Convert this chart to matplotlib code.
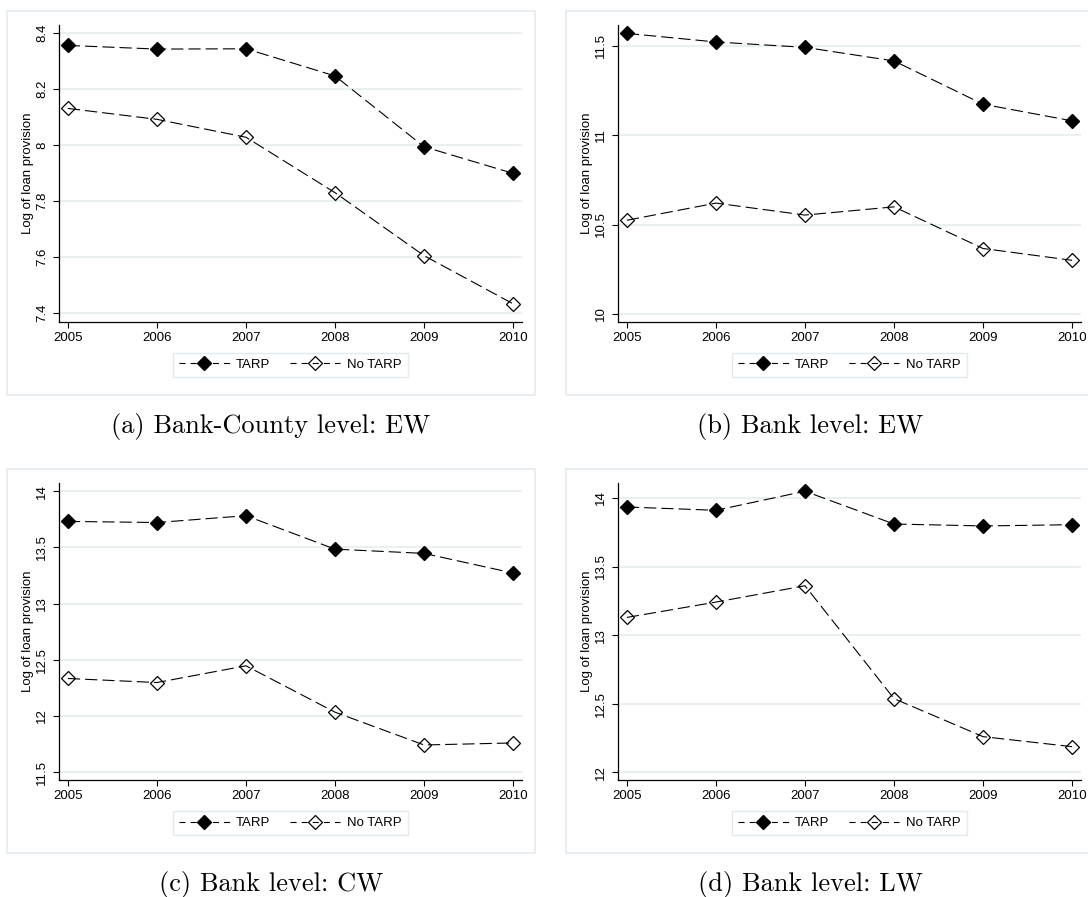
import matplotlib
matplotlib.use("Agg")
import matplotlib.pyplot as plt
from matplotlib.patches import Rectangle

# Data
years = [2005, 2006, 2007, 2008, 2009, 2010]

tarp_a = [8.356, 8.343, 8.344, 8.247, 7.994, 7.899]
notarp_a = [8.131, 8.092, 8.028, 7.830, 7.605, 7.433]

tarp_b = [11.569, 11.521, 11.491, 11.415, 11.173, 11.080]
notarp_b = [10.524, 10.620, 10.553, 10.599, 10.366, 10.300]

tarp_c = [13.732, 13.722, 13.783, 13.485, 13.447, 13.272]
notarp_c = [12.333, 12.297, 12.446, 12.033, 11.741, 11.759]

tarp_d = [13.934, 13.910, 14.049, 13.810, 13.796, 13.805]
notarp_d = [13.129, 13.241, 13.360, 12.537, 12.260, 12.187]

yticks_a = [7.4, 7.6, 7.8, 8.0, 8.2, 8.4]
ylabels_a = ["7.4", "7.6", "7.8", "8", "8.2", "8.4"]
yticks_b = [10, 10.5, 11, 11.5]
ylabels_b = ["10", "10.5", "11", "11.5"]
yticks_c = [11.5, 12, 12.5, 13, 13.5, 14]
ylabels_c = ["11.5", "12", "12.5", "13", "13.5", "14"]
yticks_d = [12, 12.5, 13, 13.5, 14]
ylabels_d = ["12", "12.5", "13", "13.5", "14"]

captions = ["(a) Bank-County level: EW", "(b) Bank level: EW",
            "(c) Bank level: CW", "(d) Bank level: LW"]

W, H = 1088, 897
plt.rcParams['font.family'] = ['Liberation Sans', 'DejaVu Sans']
fig = plt.figure(figsize=(W / 100, H / 100), dpi=100)

GRID = '#e8eff1'
FRAME = '#e3eaed'


def px_box(l, r, t, b):
    return [l / W, 1 - b / H, (r - l) / W, (b - t) / H]


panels = [
    (tarp_a, notarp_a, yticks_a, ylabels_a, (7.368, 8.429), 0, 0),
    (tarp_b, notarp_b, yticks_b, ylabels_b, (9.955, 11.616), 559, 0),
    (tarp_c, notarp_c, yticks_c, ylabels_c, (11.429, 14.074), 0, 458),
    (tarp_d, notarp_d, yticks_d, ylabels_d, (11.944, 14.109), 559, 458),
]

for i, (tarp, notarp, yt, yl, ylim, dx, dy) in enumerate(panels):
    # light outer frame around each graph
    fig.patches.append(Rectangle(((7 + dx) / W, 1 - (395 + dy) / H),
                                 528 / W, 384 / H, transform=fig.transFigure,
                                 facecolor='none', edgecolor=FRAME, lw=1.2,
                                 zorder=-1))

    ax = fig.add_axes(px_box(59 + dx, 522 + dx, 25 + dy, 322 + dy))
    ax.patch.set_alpha(0)
    ax.plot(years, tarp, color='black', lw=0.8, dashes=(11, 4.5),
            marker='D', ms=7, mfc='black', mec='black', label='TARP',
            zorder=3)
    ax.plot(years, notarp, color='black', lw=0.8, dashes=(11, 4.5),
            marker='D', ms=7, mfc='none', mec='black', mew=0.9,
            label='No TARP', zorder=3)

    ax.set_xlim(2004.9, 2010.1)
    ax.set_ylim(*ylim)
    ax.set_xticks(years)
    ax.set_yticks(yt)
    ax.set_yticklabels(yl)
    for sp in ['top', 'right']:
        ax.spines[sp].set_visible(False)
    for sp in ['left', 'bottom']:
        ax.spines[sp].set_linewidth(0.9)
    ax.grid(True, axis='y', color=GRID, lw=1.3)
    ax.set_axisbelow(True)
    ax.tick_params(direction='out', length=4, width=0.8, labelsize=9.5,
                   pad=3)
    ax.tick_params(axis='y', labelrotation=90, pad=4)
    for lab in ax.get_yticklabels():
        lab.set_va('center')

    ax.set_ylabel('Log of loan provision', fontsize=9.5)
    ax.yaxis.label.set_va('center')
    ax.yaxis.set_label_coords(-0.067, 0.5)

    leg = ax.legend(loc='center', ncol=2, fontsize=9.5,
                    bbox_to_anchor=((290.5 + dx) / W, 1 - (365 + dy) / H),
                    bbox_transform=fig.transFigure, handlelength=3.8,
                    handletextpad=0.5, columnspacing=1.5, numpoints=1,
                    fancybox=False, borderpad=0.45, framealpha=1)
    leg.get_frame().set_edgecolor(FRAME)
    leg.get_frame().set_linewidth(1.0)
    # legend keys use a shorter dash than the plotted lines
    for hl in leg.get_lines():
        hl.set_dashes((5.5, 4.5))

    cx = 271 if dx == 0 else 810
    fig.text(cx / W, 1 - (433 + dy) / H, captions[i], family='cmr10',
             fontsize=19, ha='center', va='baseline')

fig.savefig('out.png', dpi=100)
